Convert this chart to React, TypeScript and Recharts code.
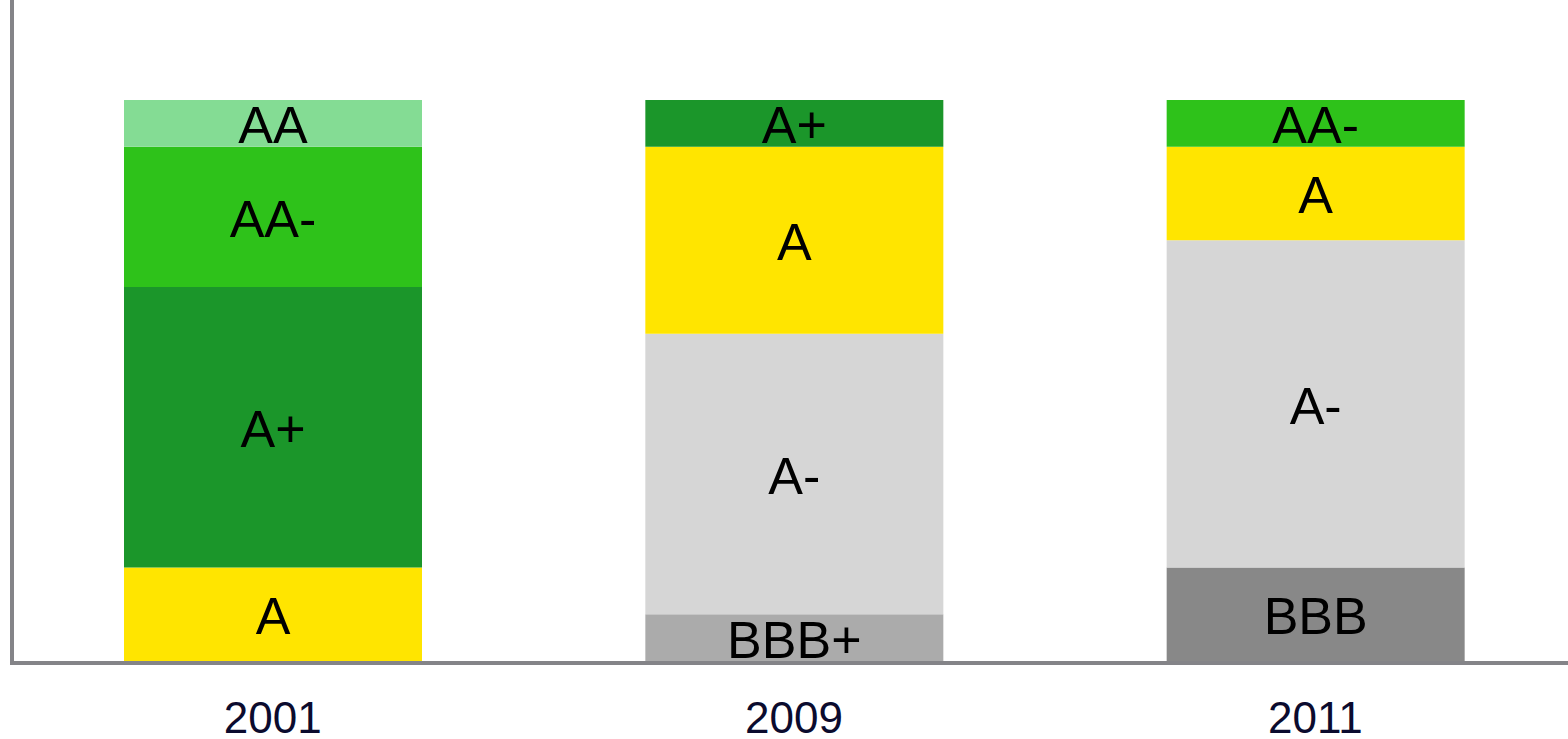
import { BarChart, Bar, XAxis, YAxis, LabelList } from 'recharts'

// number of ratings per year (out of 12)
const YEARS = ['2001', '2009', '2011']
const BBB = [null, null, 2]
const BBB_PLUS = [null, 1, null]
const A_MINUS = [null, 6, 7]
const A = [2, 4, 2]
const A_PLUS = [6, 1, null]
const AA_MINUS = [3, null, 1]
const AA = [1, null, null]

// bottom to top
const SERIES = [
  { key: 'BBB', values: BBB, color: '#888888' },
  { key: 'BBB+', values: BBB_PLUS, color: '#ababab' },
  { key: 'A-', values: A_MINUS, color: '#d6d6d6' },
  { key: 'A', values: A, color: '#ffe500' },
  { key: 'A+', values: A_PLUS, color: '#1b962a' },
  { key: 'AA-', values: AA_MINUS, color: '#2ec21a' },
  { key: 'AA', values: AA, color: '#84dc94' },
]

const DATA = YEARS.map((year, i) => {
  const row: Record<string, string | number | null> = { year }
  SERIES.forEach((s) => { row[s.key] = s.values[i] })
  return row
})

const FONT = '"Liberation Sans", Arial, sans-serif'
const AXIS = '#848488'

const segmentLabel = (name: string) => (props: any) => {
  const { x, y, width, height } = props
  if (!height || height < 1) return null
  return (
    <text x={x + width / 2} y={y + height / 2} dy={2} textAnchor="middle" dominantBaseline="central"
      fontSize={52} fontFamily={FONT} fill="#000">{name}</text>
  )
}

const YearTick = (props: any) => {
  const { x, y, payload } = props
  return (
    <text x={x} y={y + 64} textAnchor="middle" fontSize={44} fontFamily={FONT} fill="#0b0b2e">{payload.value}</text>
  )
}

export default function App() {
  return (
    <div style={{ position: 'absolute', left: 0, top: 0, background: '#fff' }}>
      <BarChart width={1568} height={739} data={DATA} margin={{ top: 0, right: -8, bottom: 0, left: 0 }} barSize={298}>
        <YAxis width={12} domain={[0, 14.139]} allowDataOverflow tick={false} tickLine={false}
          axisLine={{ stroke: AXIS, strokeWidth: 4, transform: 'scale(1,1.006)' }} />
        {SERIES.map((s) => (
          <Bar key={s.key} dataKey={s.key} stackId="r" fill={s.color} isAnimationActive={false}>
            <LabelList content={segmentLabel(s.key)} />
          </Bar>
        ))}
        <XAxis dataKey="year" height={78} tickLine={false} tick={<YearTick />}
          axisLine={{ stroke: AXIS, strokeWidth: 4, transform: 'translate(0,2)' }} />
      </BarChart>
    </div>
  )
}
